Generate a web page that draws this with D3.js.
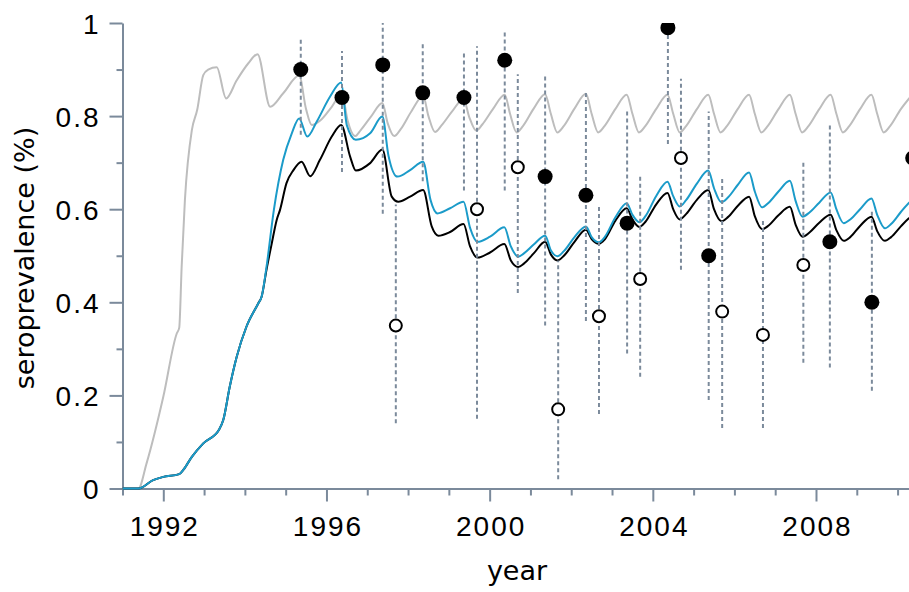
<!DOCTYPE html>
<html>
<head>
<meta charset="utf-8">
<script src="https://cdn.jsdelivr.net/npm/d3@7"></script>
<style>
  body { margin: 0; background: #fff; }
  svg { display: block; font-family: "DejaVu Sans", sans-serif; }
</style>
</head>
<body>
<div id="chart"></div>
<script>
// model curves (year, seroprevalence)
var grayYears = [1991.00, 1991.39, 1991.59, 1992.00, 1992.33, 1992.39, 1992.45, 1992.53, 1992.70, 1992.83, 1992.98, 1993.10, 1993.31, 1993.54, 1993.80, 1994.08, 1994.31, 1994.62, 1994.94, 1995.33, 1995.50, 1995.64, 1995.84, 1996.13, 1996.38,
  1996.52, 1996.70, 1996.84, 1997.10, 1997.37, 1997.50, 1997.66, 1997.82, 1998.08, 1998.37, 1998.50, 1998.66, 1998.82, 1999.08, 1999.36, 1999.50, 1999.67, 1999.82, 2000.08, 2000.37,
  2000.50, 2000.66, 2000.82, 2001.08, 2001.36, 2001.50, 2001.66, 2001.82, 2002.08, 2002.36, 2002.50, 2002.66, 2002.82, 2003.08, 2003.36, 2003.50, 2003.66, 2003.82, 2004.08, 2004.36,
  2004.50, 2004.66, 2004.82, 2005.08, 2005.36, 2005.50, 2005.66, 2005.82, 2006.08, 2006.36, 2006.50, 2006.66, 2006.82, 2007.08, 2007.36, 2007.50, 2007.66, 2007.82, 2008.08, 2008.36,
  2008.50, 2008.66, 2008.82, 2009.08, 2009.36, 2009.50, 2009.66, 2009.82, 2010.08, 2010.36];
var grayVals = [0, 0, 0.054, 0.197, 0.333, 0.345, 0.476, 0.620, 0.770, 0.813, 0.888, 0.900, 0.905, 0.838, 0.877, 0.913, 0.933, 0.820, 0.849, 0.887, 0.815, 0.781, 0.790, 0.820, 0.848,
  0.790, 0.757, 0.770, 0.800, 0.828, 0.785, 0.757, 0.772, 0.810, 0.843, 0.800, 0.766, 0.780, 0.810, 0.837, 0.798, 0.769, 0.782, 0.815, 0.846,
  0.805, 0.765, 0.779, 0.816, 0.847, 0.805, 0.765, 0.779, 0.816, 0.848, 0.805, 0.765, 0.779, 0.815, 0.846, 0.805, 0.765, 0.779, 0.815, 0.846,
  0.805, 0.765, 0.779, 0.815, 0.846, 0.805, 0.765, 0.779, 0.815, 0.846, 0.805, 0.765, 0.779, 0.815, 0.846, 0.805, 0.765, 0.779, 0.815, 0.846,
  0.805, 0.765, 0.779, 0.815, 0.846, 0.805, 0.765, 0.779, 0.815, 0.846];

var blueYears = [1991.00, 1991.39, 1991.75, 1992.00, 1992.39, 1992.49, 1992.70, 1992.98, 1993.37, 1993.47, 1993.63, 1993.80, 1994.04, 1994.33, 1994.41, 1994.53, 1994.71, 1994.94, 1995.15, 1995.33, 1995.53, 1995.76, 1996.09, 1996.36,
  1996.50, 1996.72, 1997.07, 1997.37, 1997.52, 1997.74, 1998.05, 1998.37, 1998.55, 1998.72, 1999.03, 1999.36, 1999.52, 1999.70, 2000.01, 2000.36,
  2000.52, 2000.70, 2000.84, 2001.08, 2001.36, 2001.50, 2001.66, 2001.82, 2002.08, 2002.36, 2002.50, 2002.68, 2002.82, 2003.08, 2003.36,
  2003.50, 2003.67, 2003.82, 2004.08, 2004.36, 2004.50, 2004.66, 2004.82, 2005.08, 2005.36, 2005.50, 2005.68, 2005.84, 2006.08, 2006.36,
  2006.50, 2006.68, 2006.84, 2007.08, 2007.36, 2007.50, 2007.67, 2007.84, 2008.08, 2008.36, 2008.50, 2008.68, 2008.84, 2009.08, 2009.36,
  2009.50, 2009.69, 2009.84, 2010.08, 2010.27, 2010.36];
var blueVals = [0, 0, 0.018, 0.025, 0.031, 0.040, 0.068, 0.097, 0.127, 0.147, 0.219, 0.283, 0.348, 0.398, 0.412, 0.476, 0.598, 0.706, 0.763, 0.795, 0.756, 0.788, 0.842, 0.872,
  0.780, 0.749, 0.763, 0.799, 0.715, 0.670, 0.684, 0.702, 0.620, 0.591, 0.602, 0.616, 0.560, 0.530, 0.541, 0.561,
  0.520, 0.498, 0.505, 0.524, 0.543, 0.512, 0.499, 0.510, 0.540, 0.563, 0.540, 0.529, 0.540, 0.582, 0.613,
  0.588, 0.572, 0.585, 0.628, 0.659, 0.628, 0.606, 0.620, 0.655, 0.683, 0.645, 0.615, 0.625, 0.652, 0.679,
  0.638, 0.604, 0.614, 0.638, 0.661, 0.618, 0.584, 0.593, 0.614, 0.636, 0.600, 0.570, 0.578, 0.600, 0.623,
  0.588, 0.559, 0.568, 0.594, 0.613, 0.620];

var blackYears = [1991.00, 1991.39, 1991.75, 1992.00, 1992.39, 1992.49, 1992.70, 1992.98, 1993.37, 1993.47, 1993.63, 1993.80, 1994.04, 1994.33, 1994.41, 1994.53, 1994.66, 1994.78, 1994.86, 1995.02, 1995.19, 1995.39, 1995.60, 1995.84, 1996.13, 1996.36,
  1996.58, 1996.72, 1997.07, 1997.37, 1997.60, 1997.76, 1998.05, 1998.37, 1998.58, 1998.74, 1999.03, 1999.36, 1999.52, 1999.70, 2000.01, 2000.36,
  2000.52, 2000.70, 2000.84, 2001.08, 2001.36, 2001.50, 2001.66, 2001.82, 2002.08, 2002.36, 2002.50, 2002.68, 2002.82, 2003.08, 2003.36,
  2003.50, 2003.67, 2003.82, 2004.08, 2004.36, 2004.50, 2004.66, 2004.82, 2005.08, 2005.36, 2005.50, 2005.68, 2005.84, 2006.08, 2006.36,
  2006.50, 2006.68, 2006.84, 2007.08, 2007.36, 2007.50, 2007.67, 2007.84, 2008.08, 2008.36, 2008.50, 2008.68, 2008.84, 2009.08, 2009.36,
  2009.50, 2009.69, 2009.84, 2010.08, 2010.27, 2010.36];
var blackVals = [0, 0, 0.018, 0.025, 0.031, 0.040, 0.068, 0.097, 0.127, 0.147, 0.219, 0.283, 0.348, 0.398, 0.412, 0.470, 0.527, 0.577, 0.598, 0.656, 0.684, 0.702, 0.671, 0.706, 0.756, 0.781,
  0.713, 0.683, 0.699, 0.728, 0.627, 0.616, 0.627, 0.641, 0.563, 0.543, 0.551, 0.568, 0.520, 0.496, 0.507, 0.525,
  0.490, 0.476, 0.483, 0.505, 0.530, 0.503, 0.490, 0.500, 0.530, 0.556, 0.536, 0.526, 0.535, 0.575, 0.602,
  0.578, 0.562, 0.573, 0.610, 0.635, 0.600, 0.578, 0.590, 0.620, 0.641, 0.600, 0.574, 0.583, 0.607, 0.627,
  0.585, 0.557, 0.565, 0.587, 0.605, 0.567, 0.541, 0.550, 0.571, 0.588, 0.555, 0.532, 0.540, 0.564, 0.584,
  0.553, 0.532, 0.540, 0.563, 0.580, 0.586];

// survey estimates with ranges
var filledYears = [1995.37, 1996.38, 1997.38, 1998.36, 1999.37, 2000.37, 2001.36, 2002.36, 2003.37, 2004.37, 2005.37, 2008.34, 2009.37, 2010.37];
var filledVals  = [0.90, 0.84, 0.91, 0.85, 0.84, 0.92, 0.67, 0.63, 0.57, 0.99, 0.50, 0.53, 0.40, 0.71];
var filledLow   = [0.76, 0.68, 0.59, 0.66, 0.64, 0.64, 0.35, 0.36, 0.29, 0.74, 0.19, 0.26, 0.21, 0.55];
var filledHigh  = [0.97, 0.94, 1.00, 0.96, 0.94, 0.98, 0.89, 0.85, 0.81, 1.05, 0.81, 0.78, 0.60, 0.85];

var openYears = [1997.70, 1999.69, 2000.69, 2001.68, 2002.68, 2003.69, 2004.69, 2005.70, 2006.70, 2007.69];
var openVals  = [0.35, 0.60, 0.69, 0.17, 0.37, 0.45, 0.71, 0.38, 0.33, 0.48];
var openLow   = [0.14, 0.15, 0.42, 0.02, 0.16, 0.24, 0.47, 0.13, 0.13, 0.27];
var openHigh  = [0.61, 0.95, 0.89, 0.49, 0.61, 0.67, 0.88, 0.67, 0.58, 0.70];

var yMajor = [0, 0.2, 0.4, 0.6, 0.8, 1];
var yMinor = [0.1, 0.3, 0.5, 0.7, 0.9];
var xMajor = [1992, 1996, 2000, 2004, 2008];
var xMinor = [1991, 1993, 1994, 1995, 1997, 1998, 1999, 2001, 2002, 2003, 2005, 2006, 2007, 2009, 2010];

var width = 909, height = 592;
var axisColor = "#7b8a9b";

var svg = d3.select("#chart").append("svg")
    .attr("width", width)
    .attr("height", height);

var x = d3.scaleLinear().domain([1991, 2010.28]).range([122.5, 909]);
var y = d3.scaleLinear().domain([0, 1]).range([488.5, 23]);

svg.append("clipPath").attr("id", "plotclip")
  .append("rect")
    .attr("x", x(1991)).attr("y", y(1))
    .attr("width", x(2010.28) - x(1991)).attr("height", y(0) - y(1) + 2);

// axes
function styleAxis(g) {
    g.selectAll(".domain").attr("stroke", axisColor).attr("stroke-width", 2);
    g.selectAll(".tick line").attr("stroke", axisColor).attr("stroke-width", 2);
    g.selectAll("text").attr("fill", "#000").style("font-size", "28px").style("letter-spacing", "2px");
}

var yAxis = svg.append("g").attr("transform", "translate(" + x(1991) + ",0)")
    .call(d3.axisLeft(y).tickValues(yMajor).tickSize(13).tickSizeOuter(0).tickPadding(9)
        .tickFormat(function(d) { return (d === 0 || d === 1) ? String(d) : d3.format(".1f")(d); }))
    .call(styleAxis);
yAxis.selectAll("text").attr("dy", "0.36em");

svg.append("g").attr("transform", "translate(" + x(1991) + ",0)")
    .call(d3.axisLeft(y).tickValues(yMinor).tickSize(6).tickFormat(""))
    .call(styleAxis)
    .select(".domain").remove();

var xAxis = svg.append("g").attr("transform", "translate(0," + y(0) + ")")
    .call(d3.axisBottom(x).tickValues(xMajor).tickSize(13).tickSizeOuter(0).tickPadding(15)
        .tickFormat(d3.format("d")))
    .call(styleAxis);
xAxis.selectAll("text").attr("dx", "1px");

svg.append("g").attr("transform", "translate(0," + y(0) + ")")
    .call(d3.axisBottom(x).tickValues(xMinor).tickSize(7).tickFormat(""))
    .call(styleAxis)
    .select(".domain").remove();

// axis titles
svg.append("text")
    .attr("transform", "translate(33.5,258) rotate(-90)")
    .attr("text-anchor", "middle")
    .style("font-size", "27px")
    .text("seroprevalence (%)");

svg.append("text")
    .attr("x", 517).attr("y", 580)
    .attr("text-anchor", "middle")
    .style("font-size", "27px")
    .text("year");

var plot = svg.append("g").attr("clip-path", "url(#plotclip)");

function drawCurve(years, vals, color) {
    var pts = years.map(function(d, i) { return [d, vals[i]]; });
    var line = d3.line()
        .x(function(d) { return x(d[0]); })
        .y(function(d) { return y(d[1]); })
        .curve(d3.curveMonotoneX);
    plot.append("path")
        .datum(pts)
        .attr("fill", "none")
        .attr("stroke", color)
        .attr("stroke-width", 2)
        .attr("stroke-linejoin", "round")
        .attr("d", line);
}

// black under blue, as in the original
drawCurve(grayYears, grayVals, "#bdbdbd");
drawCurve(blackYears, blackVals, "#000000");
drawCurve(blueYears, blueVals, "#1b9bc9");

// dashed ranges
function drawRanges(years, lo, hi) {
    plot.selectAll(null)
        .data(years)
        .enter().append("line")
        .attr("x1", function(d) { return x(d); })
        .attr("x2", function(d) { return x(d); })
        .attr("y1", function(d, i) { return y(lo[i]); })
        .attr("y2", function(d, i) { return y(hi[i]); })
        .attr("stroke", axisColor)
        .attr("stroke-width", 2)
        .attr("stroke-dasharray", "4,3");
}
drawRanges(filledYears, filledLow, filledHigh);
drawRanges(openYears, openLow, openHigh);

// points
plot.selectAll(null)
    .data(openYears)
    .enter().append("circle")
    .attr("cx", function(d) { return x(d); })
    .attr("cy", function(d, i) { return y(openVals[i]); })
    .attr("r", 6)
    .attr("fill", "#fff")
    .attr("stroke", "#000")
    .attr("stroke-width", 2);

plot.selectAll(null)
    .data(filledYears)
    .enter().append("circle")
    .attr("cx", function(d) { return x(d); })
    .attr("cy", function(d, i) { return y(filledVals[i]); })
    .attr("r", 7.5)
    .attr("fill", "#000");
</script>
</body>
</html>
